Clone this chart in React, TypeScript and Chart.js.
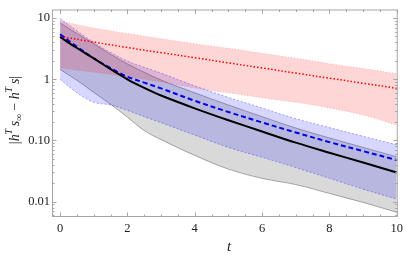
import React, { useEffect, useRef } from "react";
import { Chart, registerables } from "chart.js";

Chart.register(...registerables);

// ---- data ----
const T = [0, 0.5, 1, 1.5, 2, 2.5, 3, 4, 5, 6, 7, 8, 9, 10];
const blackMean = [4.9, 3.24, 2.2, 1.46, 1.0, 0.724, 0.543, 0.335, 0.214, 0.14, 0.092, 0.063, 0.0437, 0.03];
const grayUpper = [8.3, 5.6, 3.8, 2.55, 1.78, 1.3, 0.97, 0.6, 0.38, 0.245, 0.16, 0.11, 0.077, 0.054];
const grayLower = [1.45, 0.96, 0.61, 0.39, 0.24, 0.145, 0.103, 0.057, 0.034, 0.024, 0.019, 0.0136, 0.0097, 0.0067];
const blueMean = [5.45, 3.4, 2.2, 1.52, 1.1, 0.88, 0.71, 0.445, 0.292, 0.197, 0.135, 0.094, 0.067, 0.048];
const blueUpper = [9.8, 6.2, 4.0, 2.75, 1.98, 1.57, 1.26, 0.78, 0.505, 0.34, 0.227, 0.162, 0.117, 0.085];
const blueLower = [1.0, 0.6, 0.42, 0.38, 0.31, 0.245, 0.195, 0.122, 0.077, 0.053, 0.036, 0.024, 0.016, 0.011];

const tRed = [0, 1, 2, 3, 4, 5, 6, 7, 8, 9, 10];
const redMean = [5.0, 4.05, 3.3, 2.72, 2.25, 1.85, 1.53, 1.26, 1.04, 0.86, 0.71];
const redUpper = [8.9, 6.9, 5.6, 4.6, 3.8, 3.2, 2.65, 2.2, 1.8, 1.5, 1.23];
const redLower = [1.54, 1.3, 1.1, 0.9, 0.72, 0.6, 0.5, 0.42, 0.34, 0.26, 0.178];

const xMajorTicks = [0, 2, 4, 6, 8, 10];
const yMajorTicks = [0.01, 0.1, 1, 10];
const yTickLabels = ["0.01", "0.10", "1", "10"];

const X_MIN = -0.24;
const X_MAX = 10.03;
const Y_MIN = 0.00561;
const Y_MAX = 13.8;

const SERIF = "'Liberation Serif', 'DejaVu Serif', serif";

const pts = (xs: number[], ys: number[]) => xs.map((x, i) => ({ x, y: ys[i] }));

const framePlugin = {
  id: "frameTicks",
  afterDatasetsDraw(chart: any) {
    const { ctx, chartArea: a, scales } = chart;
    const xs = scales.x;
    const ys = scales.y;
    ctx.save();
    ctx.strokeStyle = "#a6a6a6";
    ctx.lineWidth = 1;
    ctx.strokeRect(a.left + 0.5, a.top + 0.5, a.right - a.left - 1, a.bottom - a.top - 1);
    const major = 4.5;
    const minor = 2.5;
    ctx.beginPath();
    for (let k = 0; k <= 20; k++) {
      const v = k * 0.5;
      const px = Math.round(xs.getPixelForValue(v)) + 0.5;
      const len = xMajorTicks.includes(v) ? major : minor;
      ctx.moveTo(px, a.bottom);
      ctx.lineTo(px, a.bottom - len);
      ctx.moveTo(px, a.top);
      ctx.lineTo(px, a.top + len);
    }
    for (let e = -3; e <= 1; e++) {
      for (let m = 1; m <= 9; m++) {
        const v = m * Math.pow(10, e);
        if (v < Y_MIN || v > Y_MAX) continue;
        const py = Math.round(ys.getPixelForValue(v)) + 0.5;
        const len = m === 1 ? major : minor;
        ctx.moveTo(a.left, py);
        ctx.lineTo(a.left + len, py);
        ctx.moveTo(a.right, py);
        ctx.lineTo(a.right - len, py);
      }
    }
    ctx.stroke();

    ctx.fillStyle = "#222";
    ctx.font = `italic 15px ${SERIF}`;
    ctx.textAlign = "center";
    ctx.textBaseline = "middle";
    ctx.fillText("t", 229, 247);

    const segs = [
      { t: "|", f: `14px ${SERIF}`, dy: 0 },
      { t: "h", f: `italic 14px ${SERIF}`, dy: 0 },
      { t: "T", f: `italic 9.5px ${SERIF}`, dy: -6 },
      { t: "\u2009", f: `14px ${SERIF}`, dy: 0 },
      { t: "s", f: `italic 14px ${SERIF}`, dy: 0 },
      { t: "\u221E", f: `9.5px ${SERIF}`, dy: 4 },
      { t: " \u2212 ", f: `14px ${SERIF}`, dy: 0 },
      { t: "h", f: `italic 14px ${SERIF}`, dy: 0 },
      { t: "T", f: `italic 9.5px ${SERIF}`, dy: -6 },
      { t: "\u2009", f: `14px ${SERIF}`, dy: 0 },
      { t: "s", f: `italic 14px ${SERIF}`, dy: 0 },
      { t: "|", f: `14px ${SERIF}`, dy: 0 },
    ];
    let total = 0;
    const widths = segs.map((s) => {
      ctx.font = s.f;
      const w = ctx.measureText(s.t).width;
      total += w;
      return w;
    });
    ctx.translate(15, 110);
    ctx.rotate(-Math.PI / 2);
    ctx.textAlign = "left";
    ctx.textBaseline = "middle";
    let cx = -total / 2;
    segs.forEach((s, i) => {
      ctx.font = s.f;
      ctx.fillText(s.t, cx, s.dy);
      cx += widths[i];
    });
    ctx.restore();
  },
};

export default function App() {
  const ref = useRef<HTMLCanvasElement>(null);

  useEffect(() => {
    if (!ref.current) return;
    const smooth = { pointRadius: 0, tension: 0.35 };
    const chart = new Chart(ref.current, {
      type: "line",
      data: {
        datasets: [
          {
            label: "black",
            data: pts(T, blackMean),
            borderColor: "#000",
            borderWidth: 2,
            fill: false,
            order: 0,
            ...smooth,
          },
          {
            label: "blue",
            data: pts(T, blueMean),
            borderColor: "#0000e6",
            borderWidth: 2,
            borderDash: [5, 3],
            fill: false,
            order: 0,
            ...smooth,
          },
          {
            label: "red",
            data: pts(tRed, redMean),
            borderColor: "#ff0000",
            borderWidth: 1.5,
            borderDash: [1.5, 2],
            fill: false,
            order: 0,
            ...smooth,
          },
          {
            label: "grayU",
            data: pts(T, grayUpper),
            borderColor: "rgba(0,0,0,0.4)",
            borderWidth: 0.8,
            backgroundColor: "rgba(0,0,0,0.15)",
            fill: "+1",
            order: 3,
            ...smooth,
          },
          {
            label: "grayL",
            data: pts(T, grayLower),
            borderColor: "rgba(0,0,0,0.4)",
            borderWidth: 0.8,
            fill: false,
            order: 3,
            ...smooth,
          },
          {
            label: "blueU",
            data: pts(T, blueUpper),
            borderColor: "rgba(60,60,255,0.45)",
            borderWidth: 1,
            borderDash: [2, 2],
            backgroundColor: "rgba(0,0,255,0.16)",
            fill: "+1",
            order: 2,
            ...smooth,
          },
          {
            label: "blueL",
            data: pts(T, blueLower),
            borderColor: "rgba(60,60,255,0.45)",
            borderWidth: 1,
            borderDash: [2, 2],
            fill: false,
            order: 2,
            ...smooth,
          },
          {
            label: "redU",
            data: pts(tRed, redUpper),
            borderColor: "rgba(255,60,60,0.3)",
            borderWidth: 1,
            borderDash: [1, 2],
            backgroundColor: "rgba(255,0,0,0.16)",
            fill: "+1",
            order: 1,
            ...smooth,
          },
          {
            label: "redL",
            data: pts(tRed, redLower),
            borderColor: "rgba(255,60,60,0.3)",
            borderWidth: 1,
            borderDash: [1, 2],
            fill: false,
            order: 1,
            ...smooth,
          },
        ],
      },
      options: {
        animation: false,
        responsive: false,
        layout: { padding: { top: 1, right: 8, left: 0, bottom: 0 } },
        plugins: { legend: { display: false }, tooltip: { enabled: false } },
        scales: {
          x: {
            type: "linear",
            min: X_MIN,
            max: X_MAX,
            afterBuildTicks: (s: any) => {
              s.ticks = xMajorTicks.map((v) => ({ value: v }));
            },
            afterFit: (s: any) => {
              s.height = 44;
            },
            ticks: {
              callback: (v: any) => String(v),
              font: { family: SERIF, size: 12.5 },
              color: "#222",
              padding: 4,
              maxRotation: 0,
              autoSkip: false,
            },
            grid: { display: false, drawTicks: false },
            border: { display: false },
          },
          y: {
            type: "logarithmic",
            min: Y_MIN,
            max: Y_MAX,
            afterBuildTicks: (s: any) => {
              s.ticks = yMajorTicks.map((v) => ({ value: v }));
            },
            afterFit: (s: any) => {
              s.width = 52;
            },
            ticks: {
              callback: (v: any) => {
                const i = yMajorTicks.findIndex((m) => Math.abs(m - v) / m < 1e-6);
                return i >= 0 ? yTickLabels[i] : "";
              },
              font: { family: SERIF, size: 12.5 },
              color: "#222",
              padding: 2,
              autoSkip: false,
            },
            grid: { display: false, drawTicks: false },
            border: { display: false },
          },
        },
      },
      plugins: [framePlugin],
    });
    return () => chart.destroy();
  }, []);

  return (
    <div style={{ position: "absolute", left: 0, top: 0, width: 407, height: 261, background: "#fff" }}>
      <canvas ref={ref} width={407} height={261} style={{ display: "block" }} />
    </div>
  );
}
